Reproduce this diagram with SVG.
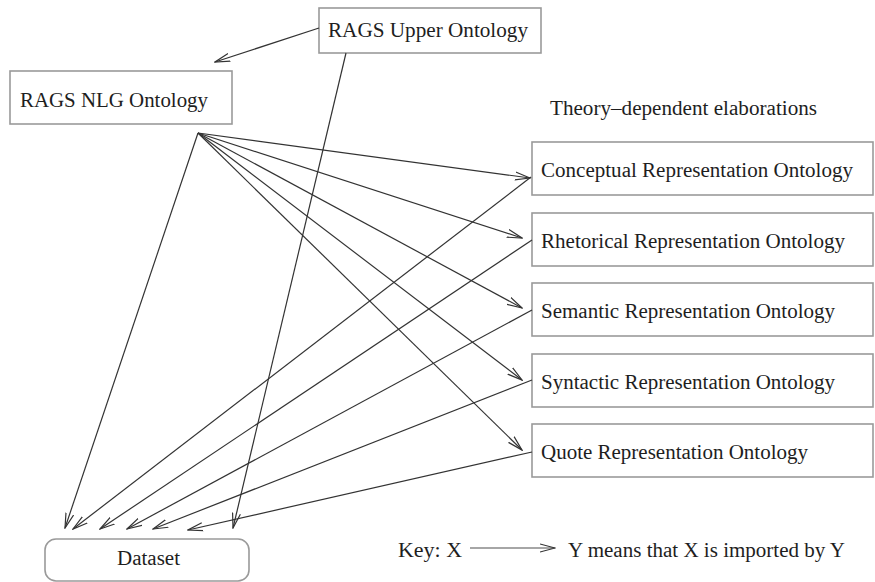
<svg xmlns="http://www.w3.org/2000/svg" width="875" height="582" viewBox="0 0 875 582">
<defs>
<style>
.box{fill:#fff;stroke:#9a9a9a;stroke-width:1.6}
.t{font-family:"Liberation Serif","Times New Roman",serif;font-size:20px;fill:#1e1e1e}
.e{stroke:#333;stroke-width:1.2;fill:none;marker-end:url(#ah)}
</style>
<marker id="ah" markerWidth="16" markerHeight="10" refX="15" refY="5" orient="auto" markerUnits="userSpaceOnUse">
<path d="M0,1 L15,5 L0,9" fill="none" stroke="#333" stroke-width="1.2"/>
</marker>
</defs>
<rect width="875" height="582" fill="#fff"/>
<g id="upper"><rect class="box" x="319" y="8" width="222" height="45"/><text class="t" x="328" y="37" textLength="200" lengthAdjust="spacingAndGlyphs">RAGS Upper Ontology</text></g>
<g id="nlg"><rect class="box" x="10" y="71" width="222" height="53"/><text class="t" x="20" y="107" textLength="188" lengthAdjust="spacingAndGlyphs">RAGS NLG Ontology</text></g>
<g id="theory"><text class="t" x="550" y="115" textLength="267" lengthAdjust="spacingAndGlyphs">Theory–dependent elaborations</text></g>
<g id="conceptual"><rect class="box" x="532" y="142" width="341" height="53"/><text class="t" x="541" y="177" textLength="312" lengthAdjust="spacingAndGlyphs">Conceptual Representation Ontology</text></g>
<g id="rhetorical"><rect class="box" x="532" y="213" width="341" height="53"/><text class="t" x="541" y="248" textLength="304" lengthAdjust="spacingAndGlyphs">Rhetorical Representation Ontology</text></g>
<g id="semantic"><rect class="box" x="532" y="283" width="341" height="53"/><text class="t" x="541" y="318" textLength="294" lengthAdjust="spacingAndGlyphs">Semantic Representation Ontology</text></g>
<g id="syntactic"><rect class="box" x="532" y="354" width="341" height="53"/><text class="t" x="541" y="389" textLength="294" lengthAdjust="spacingAndGlyphs">Syntactic Representation Ontology</text></g>
<g id="quote"><rect class="box" x="532" y="424" width="341" height="53"/><text class="t" x="541" y="459" textLength="267" lengthAdjust="spacingAndGlyphs">Quote Representation Ontology</text></g>
<g id="dataset"><rect class="box" x="45" y="539" width="204" height="42" rx="11" ry="11"/><text class="t" x="117" y="565" textLength="63" lengthAdjust="spacingAndGlyphs">Dataset</text></g>
<g id="connectors">
<line class="e" x1="319" y1="28" x2="215" y2="62"/>
<line class="e" x1="346" y1="53" x2="233" y2="528"/>
<line class="e" x1="198" y1="133" x2="65" y2="528"/>
<line class="e" x1="198" y1="133" x2="530" y2="178"/>
<line class="e" x1="198" y1="133" x2="522" y2="238"/>
<line class="e" x1="198" y1="133" x2="522" y2="308"/>
<line class="e" x1="198" y1="133" x2="522" y2="380"/>
<line class="e" x1="198" y1="133" x2="522" y2="450"/>
<line class="e" x1="531" y1="177" x2="73" y2="529"/>
<line class="e" x1="532" y1="240" x2="100" y2="529"/>
<line class="e" x1="532" y1="310" x2="127" y2="529"/>
<line class="e" x1="532" y1="380" x2="153" y2="529"/>
<line class="e" x1="532" y1="452" x2="188" y2="530"/>
</g>
<g id="key">
<text class="t" x="398" y="557" textLength="64" lengthAdjust="spacingAndGlyphs">Key: X</text>
<line x1="470" y1="548" x2="555" y2="548" stroke="#888" stroke-width="1.4" marker-end="url(#ah)"/>
<text class="t" x="568" y="557" textLength="277" lengthAdjust="spacingAndGlyphs">Y means that X is imported by Y</text>
</g>
</svg>
